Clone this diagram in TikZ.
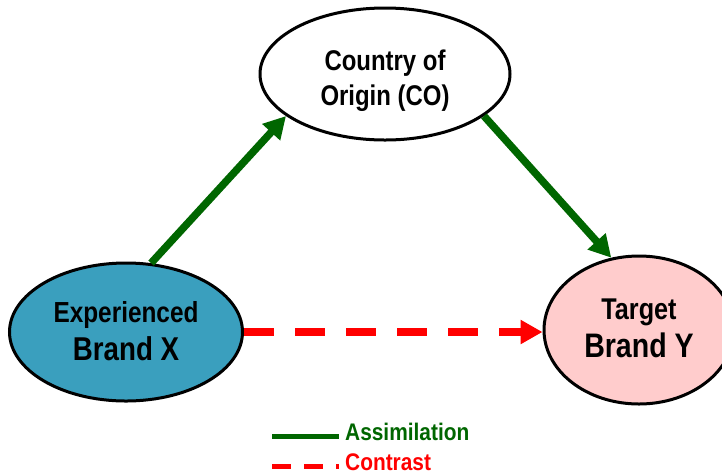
\documentclass[tikz,border=0pt]{standalone}
\usepackage{fontspec}
\newfontfamily\arialc[FakeStretch=0.84]{Liberation Sans}
\newfontfamily\arialleg[FakeStretch=0.87]{Liberation Sans}
\usetikzlibrary{shapes.geometric,arrows.meta}
\definecolor{brandblue}{HTML}{3A9FBE}
\definecolor{brandpink}{HTML}{FFCCCC}
\definecolor{assimgreen}{HTML}{006600}
\definecolor{contrastred}{HTML}{FF0000}
\tikzset{
  concept/.style={ellipse, draw=black, line width=3pt, inner sep=0pt},
  lbl/.style={align=center, inner sep=0pt, text=black},
  assim/.style={draw=assimgreen, line width=7.5pt, -{Triangle[length=22pt,width=23pt]}},
  contr/.style={draw=contrastred, line width=8pt, dash pattern=on 30pt off 21pt,
    -{Triangle[length=22pt,width=23pt]}},
  legtext/.style={anchor=base west, inner sep=0pt,
    font=\arialleg\bfseries\fontsize{24}{28}\selectfont},
}
\begin{document}
\begin{tikzpicture}[x=1pt,y=-1pt]
\useasboundingbox (0,0) rectangle (722,475);
\clip (0,0) rectangle (722,475);

% concepts
\node[concept, fill=white, minimum width=250pt, minimum height=132pt] (co) at (385,74) {};
\node[concept, fill=brandblue, minimum width=233pt, minimum height=138pt] (bx) at (126,332) {};
\node[concept, fill=brandpink, minimum width=190pt, minimum height=148pt] (by) at (639,330) {};

\node[lbl, font=\arialc\bfseries\fontsize{28.5}{35}\selectfont] (cot) at (385,80.5)
  {Country of\\Origin (CO)};
\node[lbl, font=\arialc\bfseries\fontsize{29}{38}\selectfont] (bxt) at (126,331.5)
  {Experienced\\{\fontsize{33}{38}\selectfont Brand X}};
\node[lbl, font=\arialc\bfseries\fontsize{30}{38}\selectfont] (byt) at (639,328)
  {Target\\{\fontsize{34}{38}\selectfont Brand Y}};

% relations
\draw[assim] (bx.70.6) -- (co.203);
\draw[assim] (co.337) -- (by.111.7);
\draw[contr] (bx.east) -- (bx.east -| by.west);

% legend
\node[legtext, text=assimgreen] (lga) at (345,440) {Assimilation};
\node[legtext, text=contrastred] (lgc) at (345,470) {Contrast};
\coordinate (lgas) at (272,436);
\coordinate (lgae) at (339,436);
\coordinate (lgcs) at (272,466);
\coordinate (lgce) at (339,466);
\draw[assimgreen, line width=5pt] (lgas) -- (lgae);
\draw[contrastred, line width=5pt, dash pattern=on 19pt off 13pt] (lgcs) -- (lgce);
\end{tikzpicture}
\end{document}
